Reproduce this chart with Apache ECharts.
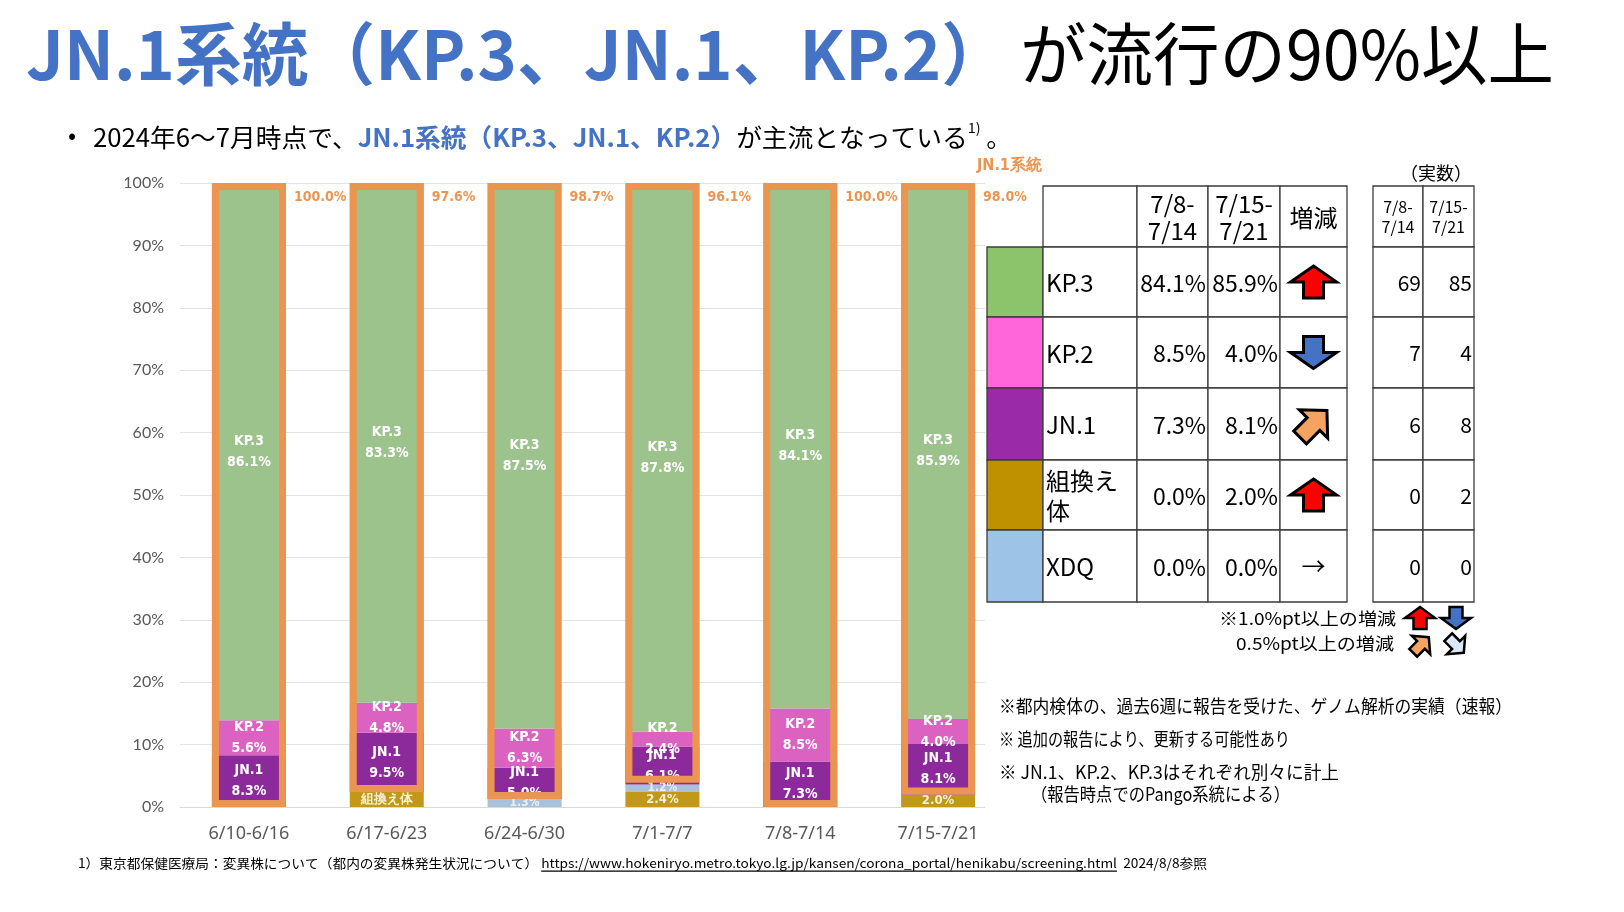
<!DOCTYPE html>
<html><head><meta charset="utf-8">
<script src="https://cdn.jsdelivr.net/npm/echarts@6/dist/echarts.min.js"></script>
<style>html,body{margin:0;padding:0;background:#fff}#c{width:1624px;height:912px}</style>
</head><body><div id="c"></div>
<script>
// ---------- data ----------
const categories = ['6/10-6/16','6/17-6/23','6/24-6/30','7/1-7/7','7/8-7/14','7/15-7/21'];
const recomb = [0, 2.4, 0, 2.4, 0, 2.0];
const xdq    = [0, 0, 1.3, 1.2, 0, 0];
const jn1    = [8.3, 9.5, 5.0, 6.1, 7.3, 8.1];
const kp2    = [5.6, 4.8, 6.3, 2.4, 8.5, 4.0];
const kp3    = [86.1, 83.3, 87.5, 87.8, 84.1, 85.9];
const lineageTotal = [100.0, 97.6, 98.7, 96.1, 100.0, 98.0];
const recombLabelText = [null, '組換え体', null, null, null, null];

const tableHeaders = ['7/8-\n7/14', '7/15-\n7/21', '増減'];
const countHeaders = ['7/8-\n7/14', '7/15-\n7/21'];
const tableNames = ['KP.3', 'KP.2', 'JN.1', '組換え\n体', 'XDQ'];
const tableWeekA = [84.1, 8.5, 7.3, 0.0, 0.0];
const tableWeekB = [85.9, 4.0, 8.1, 2.0, 0.0];
const trend = ['up', 'down', 'upRight', 'up', 'flat'];
const countA = [69, 7, 6, 0, 0];
const countB = [85, 4, 8, 2, 0];

// ---------- styles ----------
const JP = '"Noto Sans CJK JP","Noto Sans",sans-serif';
const COND = '"Liberation Sans Narrow","DejaVu Sans Condensed","Noto Sans",sans-serif';
const BLUE = '#4472c4';
const ORANGE = '#ec9550';
const C = {kp3:'#9dc38d', kp2:'#dc62c2', jn1:'#8c2a9c', rec:'#c29818', xdq:'#a9c2da'};
const TC = ['#8cc46c', '#ff66d9', '#9a2aa8', '#bf9000', '#9dc3e6'];

const mctx = document.createElement('canvas').getContext('2d');
function measure(text, size, weight, family) {
  mctx.font = (weight || 'normal') + ' ' + size + 'px ' + family;
  return mctx.measureText(text).width;
}
const g = [];
// white cover for the gridline ends beyond the plotted columns (under the table area)
g.push({type:'rect', z:1, shape:{x:985, y:170, width:30, height:645}, style:{fill:'#fff'}});
function fitLine(segs, x0, x1, y, size, family) {
  const ws = segs.map(s => measure(s.t, s.size || size, s.w || 'normal', s.f || family));
  const total = ws.reduce((a, b) => a + b, 0);
  const sc = (x1 - x0) / total;
  let x = x0;
  segs.forEach((s, i) => {
    g.push({type:'text', x:x, y:y + (s.dy || 0), scaleX:sc, z:100,
      style:{text:s.t, fontSize:s.size || size, fontWeight:s.w || 'normal', fontFamily:s.f || family,
        fill:s.c || '#000', align:'left', verticalAlign:'middle'}});
    if (s.u) g.push({type:'line', z:100, shape:{x1:x, y1:y + size * 0.62, x2:x + ws[i] * sc, y2:y + size * 0.62},
      style:{stroke:'#000', lineWidth:1.2}});
    x += ws[i] * sc;
  });
}
function txt(t, x, y, size, opts) {
  opts = opts || {};
  g.push({type:'text', x:x, y:y, z:120, style:{text:t, fontSize:size, fontFamily:opts.f || JP,
    fontWeight:opts.w || 'normal', fill:opts.c || '#000', align:opts.a || 'left',
    verticalAlign:'middle', lineHeight:opts.lh || Math.round(size * 1.15)}});
}
function arrow(cx, cy, w, h, sw, angle, fill, lw) {
  const base = [[0,-h/2],[w/2,0],[sw/2,0],[sw/2,h/2],[-sw/2,h/2],[-sw/2,0],[-w/2,0]];
  const c = Math.cos(angle), s = Math.sin(angle);
  const pts = base.map(([x, y]) => [cx + x * c - y * s, cy + x * s + y * c]);
  g.push({type:'polygon', z:130, shape:{points:pts}, style:{fill:fill, stroke:'#000', lineWidth:lw, lineJoin:'miter'}});
}

// ---------- titles ----------
fitLine([{t:'JN.1系統（KP.3、JN.1、KP.2）', c:BLUE, w:'bold'}], 26, 1008, 54, 68, JP);
fitLine([{t:'が流行の90%以上', c:'#000'}], 1020, 1554, 54, 68, JP);
txt('•', 68, 135, 24);
fitLine([
  {t:'2024年6〜7月時点で、'},
  {t:'JN.1系統（KP.3、JN.1、KP.2）', c:BLUE, w:'bold'},
  {t:'が主流となっている'},
  {t:'1)', size:14, dy:-9},
  {t:' 。'}
], 93, 1012, 137, 25, JP);
fitLine([
  {t:'1）東京都保健医療局：変異株について（都内の変異株発生状況について）'},
  {t:' '},
  {t:'https://www.hokeniryo.metro.tokyo.lg.jp/kansen/corona_portal/henikabu/screening.html', u:true},
  {t:'  2024/8/8参照'}
], 78, 1207, 863, 13, JP);

// ---------- table ----------
const rowsY = [186, 247, 317, 388, 460, 530, 602];
const colX = [987, 1043, 1137, 1208, 1280, 1347];
const cntX = [1373, 1423, 1474];
const LINE = '#3c3c3c';
function cell(x0, y0, x1, y1, fill) {
  g.push({type:'rect', z:90, shape:{x:x0, y:y0, width:x1 - x0, height:y1 - y0},
    style:{fill:fill || '#fff', stroke:LINE, lineWidth:1.3}});
}
txt('JN.1系統', 977, 166, 16, {c:ORANGE, w:'bold', f:COND});
txt('（実数）', 1400, 173, 18);
for (let c = 1; c < 5; c++) cell(colX[c], rowsY[0], colX[c + 1], rowsY[1]);
for (let c = 0; c < 2; c++) cell(cntX[c], rowsY[0], cntX[c + 1], rowsY[1]);
tableHeaders.forEach((h, i) => {
  txt(h, (colX[i + 2] + colX[i + 3]) / 2, (rowsY[0] + rowsY[1]) / 2 + 1, 24, {a:'center', lh:27});
});
countHeaders.forEach((h, i) => {
  txt(h, (cntX[i] + cntX[i + 1]) / 2, (rowsY[0] + rowsY[1]) / 2, 16, {a:'center', lh:20});
});
tableNames.forEach((name, r) => {
  const y0 = rowsY[r + 1], y1 = rowsY[r + 2], cy = (y0 + y1) / 2;
  cell(colX[0], y0, colX[1], y1, TC[r]);
  for (let c = 1; c < 5; c++) cell(colX[c], y0, colX[c + 1], y1);
  for (let c = 0; c < 2; c++) cell(cntX[c], y0, cntX[c + 1], y1);
  txt(name, colX[1] + 3, cy + 1, 24, {lh:30});
  txt(tableWeekA[r].toFixed(1) + '%', colX[3] - 2, cy + 1, 23, {a:'right'});
  txt(tableWeekB[r].toFixed(1) + '%', colX[4] - 2, cy + 1, 23, {a:'right'});
  txt(String(countA[r]), cntX[1] - 2, cy + 1, 21, {a:'right'});
  txt(String(countB[r]), cntX[2] - 2, cy + 1, 21, {a:'right'});
  const ax = (colX[4] + colX[5]) / 2;
  if (trend[r] === 'up') arrow(ax, cy, 46, 32, 20, 0, '#ff0000', 3);
  else if (trend[r] === 'down') arrow(ax, cy, 46, 32, 20, Math.PI, BLUE, 3);
  else if (trend[r] === 'upRight') arrow(ax, cy, 40, 38, 18, Math.PI / 4, '#f4a460', 3);
  else txt('→', ax, cy, 24, {a:'center'});
});
fitLine([{t:'※1.0%pt以上の増減'}], 1219, 1396, 619, 17, JP);
fitLine([{t:'0.5%pt以上の増減'}], 1236, 1394, 644, 17, JP);
arrow(1420, 618, 30, 22, 13, 0, '#ff0000', 2.5);
arrow(1456, 618, 30, 22, 13, Math.PI, BLUE, 2.5);
arrow(1421, 645, 26, 22, 11, Math.PI / 4, '#f4a460', 2.5);
arrow(1456, 645, 26, 22, 11, Math.PI * 3 / 4, '#dde8f6', 2.5);
fitLine([{t:'※都内検体の、過去6週に報告を受けた、ゲノム解析の実績（速報）'}], 999, 1512, 706, 18, JP);
fitLine([{t:'※ 追加の報告により、更新する可能性あり'}], 999, 1290, 739, 18, JP);
fitLine([{t:'※ JN.1、KP.2、KP.3はそれぞれ別々に計上'}], 999, 1339, 772, 18, JP);
fitLine([{t:'（報告時点でのPango系統による）'}], 1031, 1290, 794, 18, JP);

// ---------- chart ----------
const segLabel = {show:true, position:'inside', color:'#fff', fontSize:14, fontWeight:'bold',
  fontFamily:COND, lineHeight:21};
function named(name) {
  return p => p.value ? name + '\n' + p.value.toFixed(1) + '%' : '';
}
const BW = 74;
const base = {type:'bar', stack:'s', barWidth:BW, barGap:'-100%', emphasis:{disabled:true}};
const option = {
  animation:false,
  grid:{left:180, width:827, top:183, height:624},
  xAxis:{type:'category', data:categories,
    axisLine:{lineStyle:{color:'#d9d9d9'}}, axisTick:{show:false},
    axisLabel:{color:'#595959', fontSize:18, fontFamily:'"Noto Sans",sans-serif', margin:18}},
  yAxis:{type:'value', min:0, max:100, interval:10,
    axisLabel:{formatter:'{value}%', color:'#595959', fontSize:16, fontFamily:'Lato,"Noto Sans",sans-serif', margin:16},
    splitLine:{lineStyle:{color:'#e3e3e3'}}},
  series:[
    Object.assign({}, base, {name:'組換え体', data:recomb, itemStyle:{color:C.rec},
      label:Object.assign({}, segLabel, {fontSize:13, color:'#f5eedc',
        formatter:p => recombLabelText[p.dataIndex] || (p.value ? p.value.toFixed(1) + '%' : '')})}),
    Object.assign({}, base, {name:'XDQ', data:xdq, itemStyle:{color:C.xdq},
      label:Object.assign({}, segLabel, {fontSize:12, color:'#e8eef5',
        formatter:p => p.value ? p.value.toFixed(1) + '%' : ''})}),
    Object.assign({}, base, {name:'JN.1', data:jn1, itemStyle:{color:C.jn1},
      label:Object.assign({}, segLabel, {formatter:named('JN.1')})}),
    Object.assign({}, base, {name:'KP.2', data:kp2, itemStyle:{color:C.kp2},
      label:Object.assign({}, segLabel, {formatter:named('KP.2')})}),
    Object.assign({}, base, {name:'KP.3', data:kp3, itemStyle:{color:C.kp3},
      label:Object.assign({}, segLabel, {formatter:named('KP.3')})}),
    {type:'bar', name:'frameBase', stack:'f', barWidth:BW, barGap:'-100%', silent:true, z:5,
      data:lineageTotal.map(v => +(100 - v).toFixed(1)), itemStyle:{color:'rgba(0,0,0,0)'}},
    {type:'bar', name:'JN.1系統', stack:'f', barWidth:BW, barGap:'-100%', silent:true, z:6,
      data:lineageTotal,
      itemStyle:{color:'rgba(0,0,0,0)', borderColor:ORANGE, borderWidth:7},
      label:{show:true, position:[BW + 8, 7], align:'left', verticalAlign:'top',
        color:ORANGE, fontSize:14, fontWeight:'bold', fontFamily:COND,
        formatter:p => p.value.toFixed(1) + '%'}}
  ],
  graphic:{elements:g}
};
const chart = echarts.init(document.getElementById('c'));
chart.setOption(option);
</script>
</body></html>
